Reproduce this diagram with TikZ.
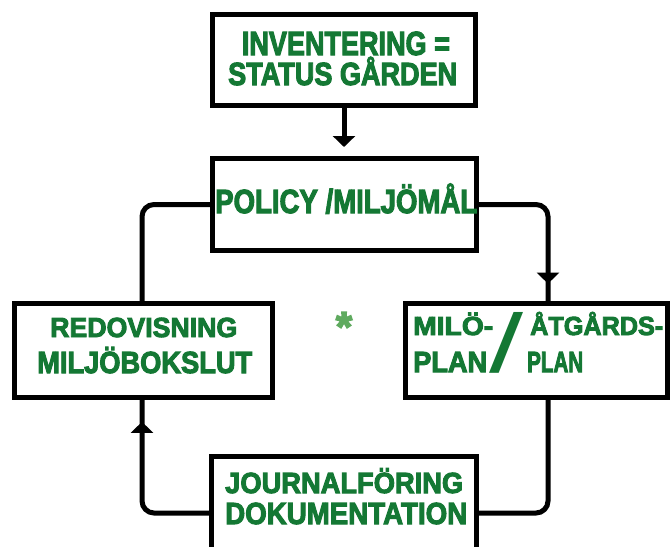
\documentclass[tikz,border=0pt]{standalone}
\usepackage{fontspec}
\usepackage{graphicx}
\usetikzlibrary{arrows.meta,decorations.markings}
\newfontfamily\gfont{Liberation Sans}[BoldFeatures={FakeBold=3.5}]
\definecolor{gtext}{RGB}{20,120,52}
\definecolor{gstar}{RGB}{95,170,95}
\newcommand\gline[3]{\resizebox{#1pt}{#2pt}{\raisebox{0pt}[\fontcharht\font`\H][0pt]{#3}}}
\newcommand\AR{\char"00C5\relax}
\newcommand\OU{\char"00D6\relax}
\begin{document}
\begin{tikzpicture}[x=1pt,y=-1pt,
  box/.style={draw=black,line width=5pt,fill=white,inner sep=0pt},
  conn/.style={draw=black,line width=5pt,rounded corners=12pt},
  tx/.style={text=gtext,inner sep=0pt,anchor=base west,font=\gfont\bfseries},
  headdown/.style={-{Triangle[width=22pt,length=11pt]}},
  markat/.style={postaction={decorate},decoration={markings,mark=at position #1 with {\arrow{Triangle[width=22pt,length=11pt]}}}}]
\useasboundingbox (0,0) rectangle (671,546);
\fill[white] (0,0) rectangle (671,546);
% boxes
\node[box,minimum width=263pt,minimum height=91pt] (boxA) at (344,60) {};
\node[box,minimum width=264pt,minimum height=92pt] (boxP) at (344.5,204.5) {};
\node[box,minimum width=258pt,minimum height=94pt] (boxR) at (143.5,350.5) {};
\node[box,minimum width=262pt,minimum height=94pt] (boxM) at (536.5,350.5) {};
\node[box,minimum width=265pt,minimum height=113pt] (boxJ) at (344,513) {};
% connector columns
\coordinate (L) at (142,204.5);
\coordinate (R) at (548,204.5);
% connectors
\draw[conn,headdown,shorten >=9pt] (boxA.south) -- (boxA.south |- boxP.north);
\draw[conn] (boxP.west) -| (L |- boxR.north);
\draw[conn,markat=143pt] (boxP.east) -| (R |- boxM.north);
\draw[conn,markat=153pt] (boxJ.west) -| (L |- boxR.south);
\draw[conn] (boxJ.east) -| (R |- boxM.south);
% texts
\node[tx] (t1) at (241.7,55) {\gline{208}{23}{INVENTERING =}};
\node[tx] (t2) at (228,85) {\gline{229}{22}{STATUS G\AR RDEN}};
\node[tx] (p1) at (215,213) {\gline{262}{23}{POLICY /MILJ\OU M\AR L}};
\node[tx] (r1) at (50,337) {\gline{187}{19}{REDOVISNING}};
\node[tx] (r2) at (37,373) {\gline{215}{21}{MILJ\OU BOKSLUT}};
\node[tx] (m1) at (413,335) {\gline{80}{18}{MIL\OU-}};
\node[tx] (m2) at (530,335) {\gline{133}{18}{\AR TG\AR RDS-}};
\node[tx] (m3) at (413,372) {\gline{74}{20}{PLAN}};
\node[tx] (m4) at (527,372) {\gline{56}{20}{PLAN}};
\node[tx,font=\gfont\mdseries] (ms) at (489,372) {\resizebox{34pt}{57pt}{\raisebox{0pt}[\fontcharht\font`\/][0pt]{/}}};
\node[tx] (j1) at (225,493) {\gline{238}{20}{JOURNALF\OU RING}};
\node[tx] (j2) at (225,524) {\gline{242}{21}{DOKUMENTATION}};
\node[text=gstar,font=\gfont\bfseries\fontsize{42}{42}\selectfont,anchor=north,inner sep=0pt] (star) at (344,312) {*};
\end{tikzpicture}
\end{document}
